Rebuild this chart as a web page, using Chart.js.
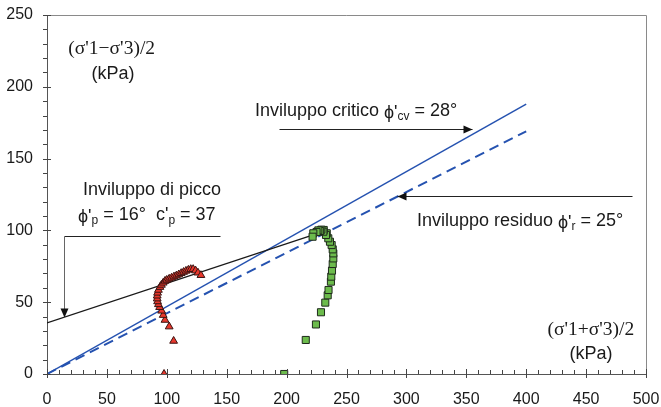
<!DOCTYPE html>
<html>
<head>
<meta charset="utf-8">
<script src="https://cdn.jsdelivr.net/npm/chart.js@4.4.0/dist/chart.umd.min.js"></script>
<style>
  html, body { margin: 0; padding: 0; background: #fff; }
</style>
</head>
<body>
<canvas id="myChart" width="661" height="407"></canvas>
<script>

// prove: punti sperimentali (p', q)
const redX   = [97.7, 105.7, 102, 98.5, 97, 95.7, 94, 93, 92.3, 92, 92, 92.3, 93, 94.3, 95.5, 97, 98.5, 100, 102, 104, 106, 108, 110, 112, 114, 116, 118, 120, 122, 124, 126, 128.5];
const redY   = [0, 23, 33, 37.6, 41, 44, 46.5, 48.5, 50.5, 52.5, 54.5, 56.5, 58.5, 60.5, 62, 63.5, 64.8, 65.5, 66.3, 67, 67.8, 68.5, 69.3, 70.2, 71, 71.8, 72.5, 73, 73, 72, 70.5, 68.8];
const greenX = [198, 216, 224.5, 228.7, 232.3, 234.3, 235, 237, 237.3, 237.9, 238.5, 239, 239, 238.5, 237.6, 236.2, 234.8, 233.5, 232.9, 231, 230.7, 229, 228, 226.5, 225, 222.3, 221.7];
const greenY = [0, 23.7, 34.5, 43, 49.7, 54.8, 58.5, 64.3, 67.8, 72, 76.6, 80.5, 84, 86.8, 89.8, 92.1, 94.5, 98, 96.8, 100.3, 99.1, 100.5, 99.6, 100, 98.9, 98, 95.6];

// inviluppi
const criticoX = [0, 400];
const criticoY = [0, 188];
const residuoX = [0, 400];
const residuoY = [0, 169];
const piccoX   = [0, 221];
const piccoY   = [35.6, 96.5];

// frecce (coordinate nel piano p'-q)
const arrowCritico = [[194, 170.5], [355, 170.5]];
const arrowResiduo = [[488, 124], [292, 124]];
const arrowPicco   = [[144, 96], [14, 96], [14, 39.7]];

const xTicks = [0, 50, 100, 150, 200, 250, 300, 350, 400, 450, 500];
const yTicks = [0, 50, 100, 150, 200, 250];

function pts(xs, ys) {
  return xs.map((x, i) => ({x: x, y: ys[i]}));
}

const SANS = '"Liberation Sans", Arial, "DejaVu Sans", sans-serif';
const SERIF = '"Liberation Serif", "Times New Roman", serif';

function drawRuns(ctx, x, y, runs) {
  runs.forEach((r) => {
    ctx.font = r.f;
    ctx.fillText(r.t, x, y + (r.dy || 0));
    x += ctx.measureText(r.t).width;
  });
}

function arrowHead(ctx, x, y, ang) {
  const L = 9, W = 4;
  ctx.beginPath();
  ctx.moveTo(x, y);
  ctx.lineTo(x - L * Math.cos(ang) + W * Math.sin(ang), y - L * Math.sin(ang) - W * Math.cos(ang));
  ctx.lineTo(x - L * Math.cos(ang) - W * Math.sin(ang), y - L * Math.sin(ang) + W * Math.cos(ang));
  ctx.closePath();
  ctx.fill();
}

const decor = {
  id: 'decor',
  afterDraw(chart) {
    const ctx = chart.ctx, a = chart.chartArea;
    const px = v => chart.scales.x.getPixelForValue(v);
    const py = v => chart.scales.y.getPixelForValue(v);
    ctx.save();

    // cornice
    ctx.strokeStyle = '#8a8a8a';
    ctx.lineWidth = 1;
    ctx.beginPath();
    ctx.moveTo(a.left, a.top + 0.5);
    ctx.lineTo(a.right + 0.5, a.top + 0.5);
    ctx.lineTo(a.right + 0.5, a.bottom);
    ctx.stroke();

    // tacche
    ctx.strokeStyle = '#444';
    ctx.beginPath();
    for (let v = 0; v <= 500; v += 10) {
      const x = Math.round(px(v)) + 0.5;
      if (v % 50 === 0) { ctx.moveTo(x, a.bottom - 5); ctx.lineTo(x, a.bottom + 4); }
      else { ctx.moveTo(x, a.bottom - 4); ctx.lineTo(x, a.bottom); }
    }
    for (let v = 0; v <= 250; v += 10) {
      const y = Math.round(py(v)) + 0.5;
      if (v % 50 === 0) { ctx.moveTo(a.left - 4, y); ctx.lineTo(a.left + 4, y); }
      else { ctx.moveTo(a.left - 4, y); ctx.lineTo(a.left, y); }
    }
    ctx.stroke();

    // frecce
    ctx.fillStyle = '#111';
    [arrowCritico, arrowResiduo, arrowPicco].forEach((path) => {
      path.forEach((p, i) => {
        if (i === 0) return;
        const q = path[i - 1];
        ctx.strokeStyle = (q[0] === p[0]) ? '#666' : '#222';
        ctx.beginPath();
        ctx.moveTo(Math.round(px(q[0])) + 0.5, Math.round(py(q[1])) + 0.5);
        ctx.lineTo(Math.round(px(p[0])) + 0.5, Math.round(py(p[1])) + 0.5);
        ctx.stroke();
      });
      const p1 = path[path.length - 2], p2 = path[path.length - 1];
      const x1 = px(p1[0]), y1 = py(p1[1]), x2 = px(p2[0]), y2 = py(p2[1]);
      arrowHead(ctx, Math.round(x2) + 0.5, Math.round(y2) + 0.5, Math.atan2(y2 - y1, x2 - x1));
    });

    // testi
    ctx.fillStyle = '#1a1a1a';
    ctx.textBaseline = 'alphabetic';
    const big = '18px ' + SANS, sub = '12px ' + SANS;
    drawRuns(ctx, px(173.6), py(179.5), [
      {t: 'Inviluppo critico ', f: big},
      {t: 'ϕ\'', f: big, dy: 2},
      {t: 'cv', f: sub, dy: 4},
      {t: ' = 28°', f: big}
    ]);
    drawRuns(ctx, px(308.8), py(103), [
      {t: 'Inviluppo residuo ', f: big},
      {t: 'ϕ\'', f: big, dy: 2},
      {t: 'r', f: sub, dy: 4},
      {t: ' = 25°', f: big}
    ]);
    drawRuns(ctx, px(30), py(124.5), [
      {t: 'Inviluppo di picco', f: big}
    ]);
    drawRuns(ctx, px(25.9), py(107.3), [
      {t: 'ϕ\'', f: big, dy: 2},
      {t: 'p', f: sub, dy: 4},
      {t: ' = 16°  c\'', f: big},
      {t: 'p', f: sub, dy: 4},
      {t: ' = 37', f: big}
    ]);

    // titoli assi
    ctx.textAlign = 'center';
    ctx.font = '19.5px ' + SERIF;
    ctx.fillText('(σ\'1−σ\'3)/2', px(54), py(223));
    ctx.fillText('(σ\'1+σ\'3)/2', px(454), py(27.4));
    ctx.font = '18px ' + SANS;
    ctx.fillText('(kPa)', px(55), py(205.5));
    ctx.fillText('(kPa)', px(454), py(10.6));
    ctx.restore();
  }
};

const BLUE = '#2552b0';

const config = {
  type: 'scatter',
  data: {
    datasets: [
      {
        data: pts(redX, redY),
        pointStyle: 'triangle',
        pointRadius: 4.5,
        backgroundColor: '#e8372c',
        borderColor: '#3a1412',
        borderWidth: 1,
      },
      {
        data: pts(greenX, greenY),
        pointStyle: 'rect',
        pointRadius: 5,
        backgroundColor: '#6cbb4c',
        borderColor: '#1f2a1c',
        borderWidth: 1,
      },
      {
        data: pts(piccoX, piccoY),
        showLine: true,
        pointRadius: 0,
        borderColor: '#1a1a1a',
        borderWidth: 1.3,
      },
      {
        data: pts(criticoX, criticoY),
        showLine: true,
        pointRadius: 0,
        borderColor: BLUE,
        borderWidth: 1.5,
      },
      {
        data: pts(residuoX, residuoY),
        showLine: true,
        pointRadius: 0,
        borderColor: BLUE,
        borderWidth: 2,
        borderDash: [10, 6],
      },
    ]
  },
  options: {
    responsive: false,
    animation: false,
    events: [],
    layout: { padding: { top: 15, right: 15, left: 0, bottom: 0 } },
    plugins: {
      legend: { display: false },
      tooltip: { enabled: false },
    },
    scales: {
      x: {
        type: 'linear',
        min: 0,
        max: 500,
        afterFit: (s) => { s.height = 33; s.paddingLeft = 0; s.paddingRight = 0; },
        afterBuildTicks: (s) => { s.ticks = xTicks.map(v => ({value: v})); },
        grid: { display: false, drawTicks: false },
        border: { display: true, color: '#555', width: 1 },
        ticks: { color: '#1a1a1a', padding: 16, font: { family: SANS, size: 16 } },
      },
      y: {
        type: 'linear',
        min: 0,
        max: 250,
        afterFit: (s) => { s.width = 47; s.paddingTop = 0; s.paddingBottom = 0; },
        afterBuildTicks: (s) => { s.ticks = yTicks.map(v => ({value: v})); },
        grid: { display: false, drawTicks: false },
        border: { display: true, color: '#555', width: 1 },
        ticks: { color: '#1a1a1a', padding: 14, font: { family: SANS, size: 16 } },
      }
    }
  },
  plugins: [decor]
};

new Chart('myChart', config);
</script>
</body>
</html>
